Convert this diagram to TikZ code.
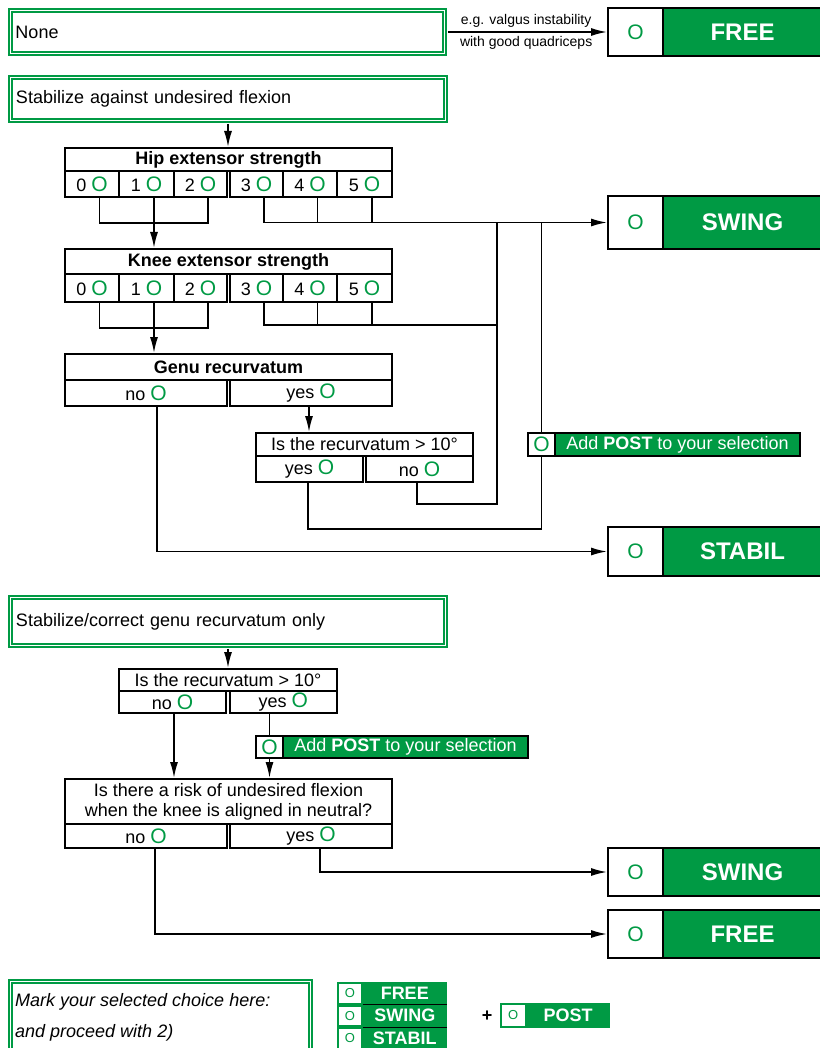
\documentclass[tikz,border=0pt]{standalone}
\usepackage{fontspec}
\setmainfont{Liberation Sans}
\usetikzlibrary{arrows.meta}
\definecolor{ottogreen}{RGB}{0,154,68}
\newcommand{\optO}{\textcolor{ottogreen}{\fontsize{21}{21}\selectfont O}}

\tikzset{
    cellbox/.style={draw, line width=2pt, inner sep=0pt, font=\fontsize{18}{20}\selectfont},
    headbox/.style={cellbox, font=\fontsize{18}{20}\selectfont\bfseries},
    gbox/.style={draw=ottogreen, line width=1.6pt, double=white, double distance=1.8pt, inner sep=0pt, font=\fontsize{18}{20}\selectfont},
    ocell/.style={cellbox, fill=white, text=ottogreen, font=\fontsize{21}{21}\selectfont},
    result/.style={cellbox, fill=ottogreen, text=white, font=\fontsize{24}{24}\selectfont\bfseries},
    postbox/.style={cellbox, fill=ottogreen, text=white},
    minio/.style={draw=ottogreen, line width=2pt, fill=white, text=ottogreen, inner sep=0pt, minimum width=24, minimum height=20.5, font=\fontsize{13}{13}\selectfont},
    mini/.style={fill=ottogreen, text=white, inner sep=0pt, minimum width=83.5, minimum height=22.5, font=\fontsize{18}{18}\selectfont\bfseries},
    wire/.style={line width=1.6pt},
    arr/.style={wire, -{Latex[length=16pt,width=8pt]}},
    smalllabel/.style={font=\fontsize{14}{14}\selectfont, inner sep=4pt}
}

\begin{document}
\begin{tikzpicture}[x=1pt, y=-1pt]
    \useasboundingbox (0,0) rectangle (819,1048);

    % no need
    \node[gbox, minimum width=434, minimum height=43, text width=424, align=left] (none) at (227.5,32) {None};
    \node[ocell, minimum width=55, minimum height=48] (free1o) at (635.5,32) {O};
    \node[result, minimum width=159, minimum height=48] (free1) at (742.5,32) {FREE};
    \draw[arr, shorten <=2.5pt] (none.east) -- (free1o.west)
        node[midway, above, smalllabel] {e.g. valgus instability}
        node[midway, below, smalllabel] {with good quadriceps};

    % against flexion
    \node[gbox, minimum width=435, minimum height=43, text width=424, align=left] (stab) at (228,99) {Stabilize against undesired flexion};

    \node[headbox, minimum width=327, minimum height=23] (hiphd) at (228.5,159.5) {Hip extensor strength};
    \node[cellbox, minimum width=54, minimum height=26] (hip0) at (92,184) {0 \optO};
    \node[cellbox, minimum width=55, minimum height=26] (hip1) at (146.5,184) {1 \optO};
    \node[cellbox, minimum width=53, minimum height=26] (hip2) at (200.5,184) {2 \optO};
    \node[cellbox, minimum width=53, minimum height=26] (hip3) at (256.5,184) {3 \optO};
    \node[cellbox, minimum width=54, minimum height=26] (hip4) at (310,184) {4 \optO};
    \node[cellbox, minimum width=55, minimum height=26] (hip5) at (364.5,184) {5 \optO};

    \node[headbox, minimum width=327, minimum height=25] (kneehd) at (228.5,261.5) {Knee extensor strength};
    \node[cellbox, minimum width=54, minimum height=28] (knee0) at (92,288) {0 \optO};
    \node[cellbox, minimum width=55, minimum height=28] (knee1) at (146.5,288) {1 \optO};
    \node[cellbox, minimum width=53, minimum height=28] (knee2) at (200.5,288) {2 \optO};
    \node[cellbox, minimum width=53, minimum height=28] (knee3) at (256.5,288) {3 \optO};
    \node[cellbox, minimum width=54, minimum height=28] (knee4) at (310,288) {4 \optO};
    \node[cellbox, minimum width=55, minimum height=28] (knee5) at (364.5,288) {5 \optO};

    \node[headbox, minimum width=327, minimum height=26] (genuhd) at (228.5,367) {Genu recurvatum};
    \node[cellbox, minimum width=162, minimum height=26] (genuno) at (146,393) {no \optO};
    \node[cellbox, minimum width=162, minimum height=26] (genuyes) at (311,393) {yes \optO};

    \node[cellbox, minimum width=217, minimum height=23] (rec1hd) at (364.5,444.5) {Is the recurvatum > 10°};
    \node[cellbox, minimum width=107, minimum height=26] (rec1yes) at (309.5,469) {yes \optO};
    \node[cellbox, minimum width=107, minimum height=26] (rec1no) at (419.5,469) {no \optO};

    \node[ocell, minimum width=27, minimum height=23] (post1o) at (541.5,444.5) {O};
    \node[postbox, minimum width=245, minimum height=23] (post1) at (677.5,444.5) {Add \textbf{POST} to your selection};

    \node[ocell, minimum width=55, minimum height=53] (swing1o) at (635.5,222.5) {O};
    \node[result, minimum width=159, minimum height=53] (swing1) at (742.5,222.5) {SWING};
    \node[ocell, minimum width=55, minimum height=49] (stabilo) at (635.5,551.5) {O};
    \node[result, minimum width=159, minimum height=49] (stabil) at (742.5,551.5) {STABIL};

    \coordinate (h0) at ([xshift=7.5pt]hip0.south);
    \coordinate (h1) at ([xshift=7.5pt]hip1.south);
    \coordinate (h2) at ([xshift=7.5pt]hip2.south);
    \coordinate (h3) at ([xshift=7.5pt]hip3.south);
    \coordinate (h4) at ([xshift=7.5pt]hip4.south);
    \coordinate (h5) at ([xshift=7.5pt]hip5.south);
    \coordinate (k0) at ([xshift=7.5pt]knee0.south);
    \coordinate (k1) at ([xshift=7.5pt]knee1.south);
    \coordinate (k2) at ([xshift=7.5pt]knee2.south);
    \coordinate (k3) at ([xshift=7.5pt]knee3.south);
    \coordinate (k4) at ([xshift=7.5pt]knee4.south);
    \coordinate (k5) at ([xshift=7.5pt]knee5.south);
    \coordinate (gn) at ([xshift=11pt]genuno.south);
    \coordinate (gy) at ([xshift=-2pt]genuyes.south);
    \coordinate (ry) at ([xshift=-1.5pt]rec1yes.south);
    \coordinate (rn) at ([xshift=-2.5pt]rec1no.south);
    \coordinate (jA) at (497,222.5);
    \coordinate (kj) at (497,325);

    \draw[arr, shorten <=2.5pt] (stab.south) -- (stab.south |- hiphd.north);
    \draw[wire] (h0) -- ++(0,25) -| (h2);
    \draw[arr] (h1) -- (h1 |- kneehd.north);
    \draw[arr] (h3) |- (swing1o.west);
    \draw[wire] (h4) -- (h4 |- swing1o.west);
    \draw[wire] (h5) -- (h5 |- swing1o.west);

    \draw[wire] (k0) -- ++(0,25) -| (k2);
    \draw[arr] (k1) -- (k1 |- genuhd.north);
    \draw[wire] (k3) |- (kj);
    \draw[wire] (k4) -- (k4 |- kj);
    \draw[wire] (k5) -- (k5 |- kj);

    \draw[arr] (gy) -- (gy |- rec1hd.north);
    \draw[arr] (gn) |- (stabilo.west);
    \draw[wire] (rn) -- ++(0,21) -| (jA);
    \draw[wire] (ry) -- ++(0,46) -| (post1o.south);
    \draw[wire] (post1o.north) -- (post1o.north |- swing1o.west);

    % recurvatum only
    \node[gbox, minimum width=435, minimum height=48, text width=424, align=left] (corr) at (228,621.5) {Stabilize/correct genu recurvatum only};

    \node[cellbox, minimum width=218, minimum height=22] (rec2hd) at (228,680) {Is the recurvatum > 10°};
    \node[cellbox, minimum width=107, minimum height=22] (rec2no) at (172.5,702) {no \optO};
    \node[cellbox, minimum width=107.5, minimum height=22] (rec2yes) at (283.25,702) {yes \optO};

    \node[ocell, minimum width=27, minimum height=22] (post2o) at (269.5,747) {O};
    \node[postbox, minimum width=245, minimum height=22] (post2) at (405.5,747) {Add \textbf{POST} to your selection};

    \node[cellbox, minimum width=327, minimum height=45, align=center] (riskhd) at (228.5,801.5) {Is there a risk of undesired flexion\\when the knee is aligned in neutral?};
    \node[cellbox, minimum width=162, minimum height=24] (riskno) at (146,836) {no \optO};
    \node[cellbox, minimum width=162, minimum height=24] (riskyes) at (311,836) {yes \optO};

    \node[ocell, minimum width=55, minimum height=48] (swing2o) at (635.5,872) {O};
    \node[result, minimum width=159, minimum height=48] (swing2) at (742.5,872) {SWING};
    \node[ocell, minimum width=55, minimum height=48] (free2o) at (635.5,934) {O};
    \node[result, minimum width=159, minimum height=48] (free2) at (742.5,934) {FREE};

    \coordinate (r2n) at ([xshift=1.5pt]rec2no.south);
    \coordinate (qn) at ([xshift=9pt]riskno.south);
    \coordinate (qy) at ([xshift=9pt]riskyes.south);

    \draw[arr, shorten <=2.5pt] (corr.south) -- (corr.south |- rec2hd.north);
    \draw[arr] (r2n) -- (r2n |- riskhd.north);
    \draw[wire] (post2o.north |- rec2yes.south) -- (post2o.north);
    \draw[arr] (post2o.south) -- (post2o.south |- riskhd.north);
    \draw[arr] (qy) |- (swing2o.west);
    \draw[arr] (qn) |- (free2o.west);

    % selection
    \node[gbox, minimum width=300, minimum height=80] (mark) at (160.5,1021.5) {};
    \node[anchor=west, inner sep=0pt, font=\fontsize{18}{18}\selectfont\itshape] (markA) at (15,1002) {Mark your selected choice here:};
    \node[anchor=west, inner sep=0pt, font=\fontsize{18}{18}\selectfont\itshape] (markB) at (15,1033) {and proceed with 2)};

    \node[minio] (sfreeo) at (350,993.25) {O};
    \node[mini] (sfree) at (404.75,993.25) {FREE};
    \node[minio] (sswingo) at (350,1015.75) {O};
    \node[mini] (sswing) at (404.75,1015.75) {SWING};
    \node[minio] (sstabilo) at (350,1038.25) {O};
    \node[mini] (sstabil) at (404.75,1038.25) {STABIL};
    \draw[line width=1.2pt] (sfree.south west) -- (sfree.south east);
    \draw[line width=1.2pt] (sswing.south west) -- (sswing.south east);

    \node[font=\fontsize{18}{18}\selectfont\bfseries] (plus) at (487,1016) {+};
    \node[minio, minimum width=24.5, minimum height=23] (sposto) at (513.25,1015.5) {O};
    \node[mini, minimum width=83, minimum height=25] (spost) at (568,1015.5) {POST};
\end{tikzpicture}
\end{document}
